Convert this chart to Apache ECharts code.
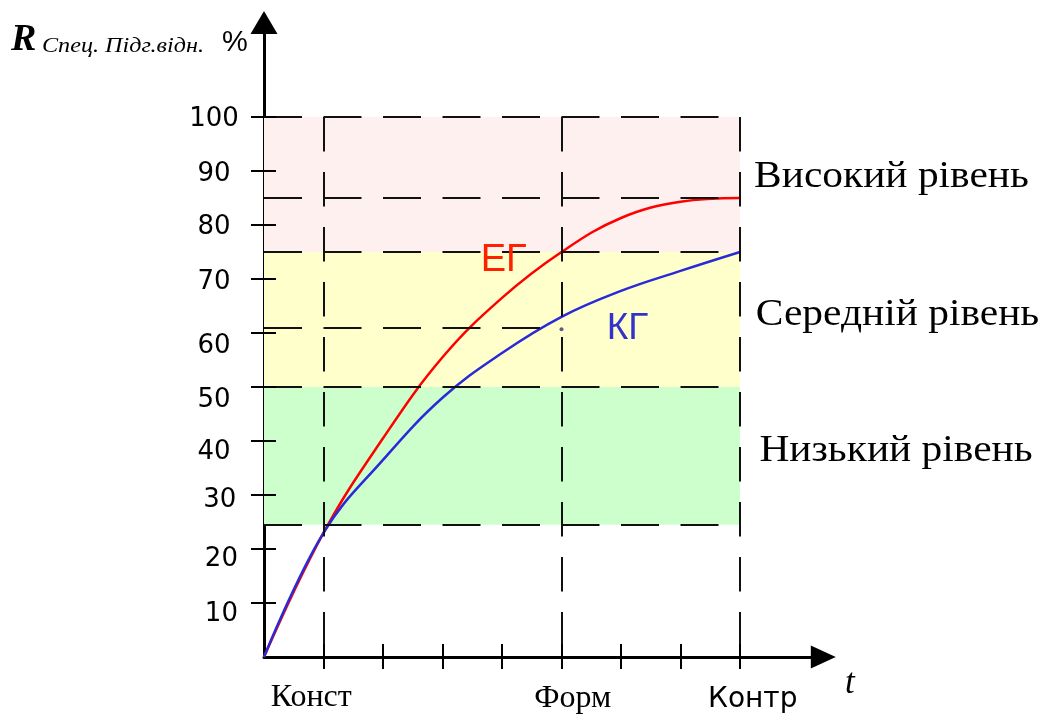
<!DOCTYPE html>
<html>
<head>
<meta charset="utf-8">
<script src="https://cdn.jsdelivr.net/npm/echarts@6/dist/echarts.min.js"></script>
<style>
html, body { margin: 0; background: #fff; }
#chart { width: 1051px; height: 717px; }
</style>
</head>
<body>
<div id="chart"></div>
<script>
// етапи експерименту та рівні сформованості (%)
var stages = [0, 1, 2, 3, 4, 5, 6, 7, 8];
var egValues = [0, 23, 40.5, 55.5, 66.5, 75, 81.3, 84.3, 85];
var kgValues = [0, 23, 36.5, 48, 56.3, 63, 67.8, 71.5, 75];
var stageTicks = [1, 2, 3, 4, 5, 6, 7, 8];
var stageNames = { 1: 'Конст', 5: 'Форм', 8: 'Контр' };
var percentTicks = [10, 20, 30, 40, 50, 60, 70, 80, 90, 100];
var levelNames = ['Високий рівень', 'Середній рівень', 'Низький рівень'];
var levelBands = [[75, 100], [50, 75], [24.5, 50]];
var guideLevels = [100, 85, 75, 50, 24.5];
var shortGuideLevel = 61;
var guideStages = [1, 5, 8];
var formDot = [5, 60.7];

var chart = echarts.init(document.getElementById('chart'));

var bandColors = ['#fff0f0', '#ffffcc', '#ccffcc'];
var hDash = { color: '#111', width: 2, type: [38, 21.5] };
var vDash = { color: '#111', width: 2, type: [34.5, 20.5] };

var guideLines = [];
guideLevels.forEach(function (v) {
    guideLines.push([{ coord: [0, v], lineStyle: hDash }, { coord: [8, v] }]);
});
guideLines.push([{ coord: [0, shortGuideLevel], lineStyle: hDash }, { coord: [5, shortGuideLevel] }]);
guideStages.forEach(function (s) {
    guideLines.push([{ coord: [s, 100], lineStyle: vDash }, { coord: [s, 0] }]);
});

var bands = levelBands.map(function (b, i) {
    return [{ xAxis: 0, yAxis: b[0], itemStyle: { color: bandColors[i] } }, { xAxis: 8, yAxis: b[1] }];
});

function pairs(ys) {
    return stages.map(function (x, i) { return [x, ys[i]]; });
}

// зсуви підписів осі Y (як у оригіналі, підписи розставлені вручну)
var yRich = {};
var yShift = { 100: [0, 0.7], 90: [0, 1], 80: [0, 0.8], 70: [0, 1.5], 60: [0, 11.5],
    50: [0, 11.6], 40: [0, 9.8], 30: [5.7, 3], 20: [7.4, 8.7], 10: [7.4, 9.6] };
percentTicks.forEach(function (v) {
    var s = yShift[v];
    yRich['r' + v] = {
        fontSize: 26, fontFamily: 'DejaVu Sans', color: '#000', lineHeight: 28,
        padding: [2 * (s[1] + 1.75), 0, 0, 2 * s[0]]
    };
});

function label(x, y, text, font, color, sx, align) {
    return {
        type: 'text', x: x, y: y, scaleX: sx || 1, z: 20,
        style: { text: text, font: font, fill: color, align: align || 'left', textAlign: align || 'left',
            verticalAlign: 'middle', textVerticalAlign: 'middle' }
    };
}

var option = {
    animation: false,
    grid: { left: 264, right: 227.7, top: 22.5, bottom: 60, containLabel: false },
    xAxis: [{
        type: 'value', min: 0, max: 9.4,
        axisLine: { show: true, symbol: ['none', 'triangle'], symbolSize: [23, 25],
            lineStyle: { color: '#000', width: 3 } },
        axisTick: { show: true, length: 12, customValues: stageTicks,
            lineStyle: { color: '#000', width: 2 } },
        axisLabel: {
            customValues: [1, 5, 8], margin: 25,
            formatter: function (v) { return '{s' + v + '|' + stageNames[v] + '}'; },
            rich: {
                s1: { fontSize: 32, fontFamily: 'Liberation Serif', color: '#000', lineHeight: 32, padding: [0, 24.6, 0, 0] },
                s5: { fontSize: 32, fontFamily: 'Liberation Serif', color: '#000', lineHeight: 32, padding: [1, 0, 0, 22.4] },
                s8: { fontSize: 28, fontFamily: 'DejaVu Sans', color: '#000', lineHeight: 32, padding: [4, 0, 0, 25.4] }
            }
        },
        splitLine: { show: false }
    }, {
        type: 'value', min: 0, max: 9.4, position: 'bottom', z: 10,
        axisLine: { show: false },
        axisTick: { show: true, inside: true, length: 13, customValues: stageTicks,
            lineStyle: { color: '#000', width: 2 } },
        axisLabel: { show: false },
        splitLine: { show: false }
    }],
    yAxis: [{
        type: 'value', min: 0, max: 117.5,
        axisLine: { show: true, symbol: ['none', 'triangle'], symbolSize: [27, 23],
            lineStyle: { color: '#000', width: 3 } },
        axisTick: { show: true, length: 13, customValues: percentTicks,
            lineStyle: { color: '#000', width: 2 } },
        axisLabel: {
            customValues: percentTicks, margin: 50, align: 'center',
            formatter: function (v) { return '{r' + v + '|' + v + '}'; },
            rich: yRich
        },
        splitLine: { show: false }
    }, {
        type: 'value', min: 0, max: 117.5, position: 'left', z: 10,
        axisLine: { show: false },
        axisTick: { show: true, inside: true, length: 12, customValues: percentTicks,
            lineStyle: { color: '#000', width: 2 } },
        axisLabel: { show: false },
        splitLine: { show: false }
    }],
    series: [
        {
            // фон рівнів та пунктирні напрямні
            type: 'line', data: [], z: 1, silent: true,
            markArea: { silent: true, data: bands },
            markLine: { silent: true, symbol: 'none', label: { show: false }, data: guideLines }
        },
        {
            name: 'ЕГ', type: 'line', z: 3,
            data: pairs(egValues),
            smooth: 0.4, showSymbol: false,
            lineStyle: { color: '#ff0000', width: 2.5 }
        },
        {
            name: 'КГ', type: 'line', z: 4,
            data: pairs(kgValues),
            smooth: 0.4, showSymbol: false,
            lineStyle: { color: '#2a2ad6', width: 2.5 }
        },
        {
            type: 'scatter', z: 5, silent: true,
            data: [formDot], symbolSize: 4,
            itemStyle: { color: '#333366' }
        }
    ],
    graphic: [
        label(11, 40.5, 'R', 'italic bold 38px "Liberation Serif"', '#000'),
        label(42, 46.3, 'Спец. Підг.відн.', 'italic 21px "Liberation Serif"', '#000', 1.15),
        label(222, 42.5, '%', '29px "Liberation Sans"', '#000'),
        label(845, 683.5, 't', 'italic 35px "Liberation Serif"', '#000'),
        label(480.7, 261, 'ЕГ', '38px "Liberation Sans"', '#ff2000'),
        label(606.7, 328.3, 'КГ', '37px "Liberation Sans"', '#3333cc'),
        label(891.5, 177.5, levelNames[0], '37px "Liberation Serif"', '#000', 1.12, 'center'),
        label(897.5, 315.5, levelNames[1], '37px "Liberation Serif"', '#000', 1.12, 'center'),
        label(896, 451.5, levelNames[2], '37px "Liberation Serif"', '#000', 1.12, 'center')
    ]
};
chart.setOption(option);
</script>
</body>
</html>
